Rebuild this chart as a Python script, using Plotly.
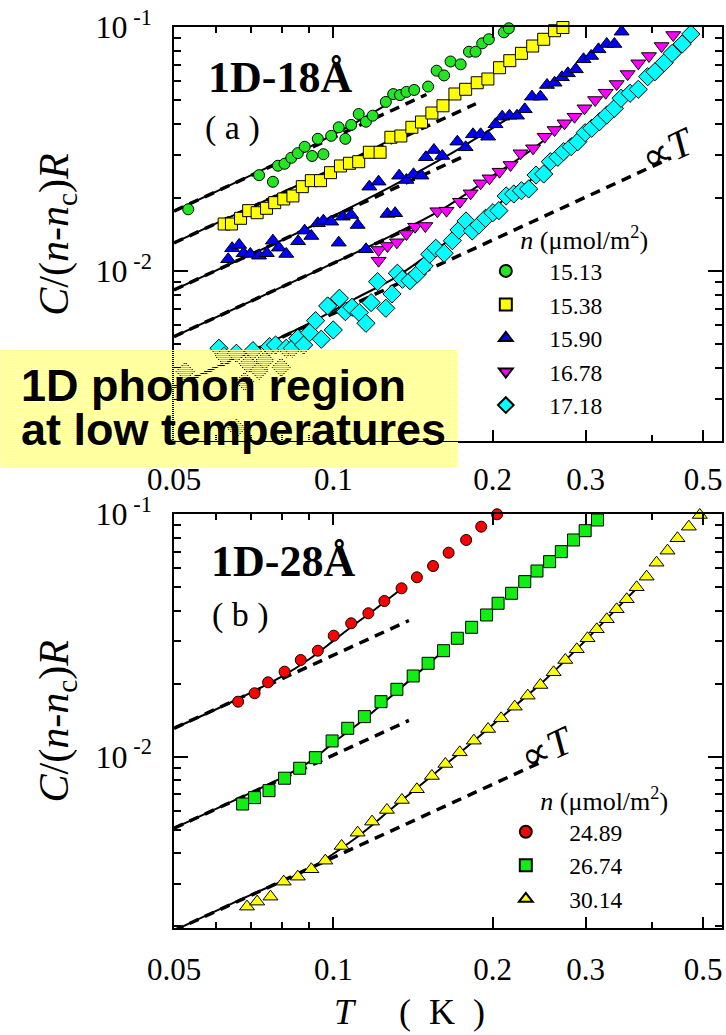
import math
import plotly.graph_objects as go

# ---------------- data: panel (a) 1D-18Å ----------------
T_1513 = [0.0532,0.0724,0.0769,0.0786,0.0809,0.0833,0.0857,0.0883,0.0912,0.0935,0.0958,0.0991,0.1024,0.1054,0.1081,0.1117,0.1153,0.1187,0.1257,0.1298,0.1337,0.1375,0.1422,0.1511,0.1568,0.1620,0.1666,0.1741,0.1805,0.1858,0.1912,0.1968,0.2101,0.2147]
C_1513 = [0.0179,0.0247,0.0232,0.0270,0.0275,0.0291,0.0304,0.0323,0.0296,0.0348,0.0301,0.0358,0.0388,0.0348,0.0397,0.0440,0.0409,0.0433,0.0493,0.0531,0.0526,0.0542,0.0552,0.0570,0.0662,0.0633,0.0722,0.0703,0.0792,0.0792,0.0857,0.0891,0.0951,0.0988]

T_1538 = [0.0622,0.0642,0.0668,0.0692,0.0718,0.0748,0.0775,0.0806,0.0839,0.0874,0.0909,0.0946,0.0988,0.1032,0.1073,0.1117,0.1170,0.1226,0.1285,0.1342,0.1408,0.1468,0.1536,0.1612,0.1698,0.1779,0.1871,0.1960,0.2062,0.2156,0.2268,0.2382,0.2499,0.2620,0.2717]
C_1538 = [0.01558,0.01558,0.01644,0.01767,0.01733,0.01807,0.01905,0.01973,0.0203,0.02216,0.02345,0.02345,0.02529,0.02694,0.02763,0.02805,0.03066,0.03066,0.03532,0.03575,0.0388,0.0408,0.04441,0.04754,0.05314,0.05555,0.05909,0.06121,0.06809,0.07276,0.078,0.08357,0.08905,0.09656,0.0995]

T_1590 = [0.0633,0.0644,0.0664,0.0677,0.0697,0.0724,0.0749,0.0769,0.0789,0.0815,0.0858,0.0883,0.0909,0.0935,0.0958,0.0991,0.1024,0.1042,0.1081,0.1112,0.1153,0.1170,0.1218,0.1266,0.1309,0.1332,0.1375,0.1418,0.1468,0.1496,0.1550,0.1607,0.1716,0.1779,0.1837,0.1899,0.1962,0.2026,0.2086,0.2153,0.2225,0.2301,0.2375,0.2463,0.2535,0.2620,0.2705,0.2776,0.2874,0.2972,0.3072,0.3172,0.3288,0.3399,0.3508]
C_1590 = [0.01117,0.01239,0.01278,0.01182,0.01174,0.01155,0.01182,0.01331,0.01246,0.01174,0.01323,0.01463,0.01391,0.01568,0.01607,0.01592,0.01306,0.01669,0.01696,0.01543,0.01227,0.02216,0.02323,0.01713,0.01724,0.02458,0.0236,0.0249,0.02458,0.02924,0.03132,0.0296,0.03388,0.03213,0.03632,0.03632,0.03551,0.03993,0.04289,0.04329,0.04329,0.04598,0.05181,0.05181,0.05784,0.05909,0.0622,0.06457,0.06706,0.07372,0.07605,0.081,0.08517,0.08517,0.09566]

T_1678 = [0.1218,0.1218,0.1266,0.1319,0.1375,0.1428,0.1493,0.1573,0.1637,0.1736,0.1818,0.1899,0.1974,0.2062,0.2163,0.2259,0.2386,0.2509,0.2620,0.2736,0.2858,0.2984,0.3126,0.3273,0.3433,0.3601,0.3772,0.3951,0.4174,0.4391]
C_1678 = [0.01219,0.01102,0.01266,0.01311,0.01418,0.01519,0.01529,0.01758,0.01767,0.01923,0.02081,0.02287,0.02398,0.02553,0.0272,0.03037,0.03184,0.03551,0.03784,0.04031,0.04289,0.04643,0.05021,0.0538,0.05839,0.06414,0.07099,0.07605,0.08357,0.09273]

T_1718 = [0.0525,0.0608,0.0622,0.0656,0.0656,0.0680,0.0690,0.0705,0.0724,0.0742,0.0758,0.0778,0.0797,0.0815,0.0837,0.0857,0.0879,0.0902,0.0926,0.0949,0.0976,0.1000,0.1027,0.1054,0.1085,0.1120,0.1153,0.1179,0.1213,0.1257,0.1291,0.1322,0.1351,0.1396,0.1442,0.1485,0.1522,0.1562,0.1620,0.1679,0.1728,0.1782,0.1831,0.1885,0.1940,0.2003,0.2056,0.2122,0.2194,0.2268,0.2341,0.2417,0.2499,0.2572,0.2658,0.2725,0.2817,0.2899,0.2993,0.3080,0.3185,0.3288,0.3399,0.3499,0.3639,0.3772,0.3928,0.4056,0.4222,0.4371,0.4566,0.4740]
C_1718 = [0.00387,0.00482,0.00448,0.0046,0.002266,0.00352,0.004158,0.004713,0.00391,0.004296,0.004895,0.004973,0.00403,0.004822,0.004822,0.005299,0.004973,0.005587,0.006255,0.005249,0.00719,0.005731,0.007728,0.006811,0.007099,0.006748,0.006104,0.007418,0.009041,0.007032,0.008048,0.009786,0.009247,0.009125,0.009721,0.01048,0.01171,0.01239,0.01182,0.01331,0.01472,0.01603,0.01459,0.01543,0.01644,0.01733,0.01767,0.0203,0.02068,0.02133,0.02168,0.02473,0.02497,0.02805,0.02924,0.03083,0.03231,0.03388,0.03688,0.03845,0.0409,0.04357,0.04643,0.05102,0.05349,0.05555,0.06255,0.06557,0.0714,0.078,0.08517,0.09361]

# fit curves (solid) and linear-T lines (dashed), panel (a)
FIT_T_1513 = [0.05,0.07,0.09,0.11,0.125]
FIT_C_1513 = [0.0176,0.0247,0.0322,0.0405,0.0475]
LIN_T_1513 = [0.05,0.15]
LIN_C_1513 = [0.0176,0.0529]
FIT_T_1538 = [0.05,0.07,0.09,0.11,0.14]
FIT_C_1538 = [0.01303,0.01826,0.0236,0.0292,0.0378]
LIN_T_1538 = [0.05,0.186]
LIN_C_1538 = [0.01303,0.04847]
FIT_T_1590 = [0.05,0.08,0.1,0.12,0.14,0.17,0.2,0.23]
FIT_C_1590 = [0.00836,0.01338,0.0168,0.0205,0.0245,0.031,0.0385,0.0465]
LIN_T_1590 = [0.05,0.177]
LIN_C_1590 = [0.00836,0.0296]
FIT_T_1678 = [0.05,0.08,0.1,0.13,0.16,0.2,0.24,0.275]
FIT_C_1678 = [0.00538,0.0086,0.01076,0.0141,0.0178,0.0245,0.032,0.041]
LIN_T_1678 = [0.05,0.14]
LIN_C_1678 = [0.00538,0.01506]
FIT_T_1718 = [0.05,0.07,0.09,0.11,0.13,0.15,0.18,0.21,0.25,0.3,0.32]
FIT_C_1718 = [0.00335,0.0047,0.0061,0.0077,0.0093,0.0115,0.0152,0.0195,0.026,0.037,0.041]
LIN_T_1718 = [0.05,0.435]
LIN_C_1718 = [0.003346,0.0291]

# ---------------- data: panel (b) 1D-28Å ----------------
T_2489 = [0.0661,0.0710,0.0753,0.0809,0.0868,0.0935,0.1002,0.1081,0.1165,0.1249,0.1346,0.1439,0.1544,0.1652,0.1783,0.1904,0.2040]
C_2489 = [0.01685,0.01825,0.02025,0.0224,0.02502,0.02733,0.03151,0.03545,0.03898,0.0438,0.0494,0.05484,0.06105,0.06926,0.07815,0.08866,0.0997]

T_2674 = [0.0674,0.0710,0.0756,0.0809,0.0864,0.0925,0.0995,0.1065,0.1145,0.1231,0.1319,0.1416,0.1511,0.1616,0.1716,0.1826,0.1949,0.2049,0.2173,0.2301,0.2427,0.2564,0.2698,0.2845,0.2993,0.3158]
C_2674 = [0.00638,0.00678,0.007244,0.00815,0.00896,0.009906,0.01161,0.01309,0.01462,0.01685,0.01895,0.0215,0.02425,0.02733,0.03075,0.03413,0.03836,0.04286,0.04713,0.05263,0.05822,0.06361,0.06994,0.07815,0.08535,0.09447]

T_3014 = [0.0687,0.0718,0.0761,0.0806,0.0857,0.0909,0.0966,0.1037,0.1112,0.1184,0.1263,0.1348,0.1439,0.1536,0.1629,0.1734,0.1844,0.1962,0.2076,0.2203,0.2331,0.2463,0.2609,0.2745,0.2886,0.3024,0.3148,0.3288,0.3433,0.3586,0.3745,0.3911,0.4083,0.4283,0.4473,0.4700,0.4929]
C_3014 = [0.00241,0.002527,0.002649,0.003055,0.003203,0.003436,0.003728,0.004285,0.004862,0.0054,0.006031,0.006631,0.007339,0.008325,0.009331,0.01042,0.01164,0.0130,0.01439,0.01607,0.01784,0.01974,0.02227,0.02502,0.0277,0.03075,0.03349,0.03683,0.04049,0.04452,0.04989,0.05517,0.06299,0.07061,0.07943,0.08866,0.09906]

FIT_T_2489 = [0.05,0.065,0.08,0.09,0.1,0.11,0.12,0.135]
FIT_C_2489 = [0.01309,0.0170,0.0214,0.0252,0.0300,0.0352,0.0405,0.0494]
LIN_T_2489 = [0.05,0.139]
LIN_C_2489 = [0.01309,0.03639]
FIT_T_2674 = [0.05,0.065,0.08,0.09,0.1,0.115,0.13,0.15,0.165]
FIT_C_2674 = [0.00507,0.0066,0.0082,0.0095,0.0114,0.0144,0.0181,0.0237,0.0284]
LIN_T_2674 = [0.05,0.139]
LIN_C_2674 = [0.00507,0.0141]
FIT_T_3014 = [0.05,0.07,0.09,0.11,0.13,0.15,0.18,0.21,0.25,0.3,0.35,0.38]
FIT_C_3014 = [0.00192,0.0027,0.00345,0.0046,0.0062,0.0080,0.0111,0.0148,0.0205,0.0302,0.0425,0.051]
LIN_T_3014 = [0.05,0.2445]
LIN_C_3014 = [0.00192,0.0094]

X_TICKS = [0.05, 0.1, 0.2, 0.3, 0.5]
X_TICK_TEXT = ["0.05", "0.1", "0.2", "0.3", "0.5"]
X_MINOR = [0.06, 0.07, 0.08, 0.09, 0.4]
Y_TICKS = [0.01, 0.1]
Y_TICK_TEXT = ["10<sup> -2</sup>", "10<sup> -1</sup>"]
Y_MINOR = [0.002,0.003,0.004,0.005,0.006,0.007,0.008,0.009,
           0.02,0.03,0.04,0.05,0.06,0.07,0.08,0.09]

SERIF = "Liberation Serif, Times New Roman, serif"
SANS = "Liberation Sans, Arial, sans-serif"
NB = "\u00a0"

fig = go.Figure()

def add_lines(fT, fC, lT, lC, xa, ya):
    fig.add_trace(go.Scatter(x=fT, y=fC, mode="lines", xaxis=xa, yaxis=ya,
                             line=dict(color="black", width=2, shape="spline"),
                             showlegend=False, hoverinfo="skip"))
    fig.add_trace(go.Scatter(x=lT, y=lC, mode="lines", xaxis=xa, yaxis=ya,
                             line=dict(color="black", width=3.5, dash="10px,7px"),
                             showlegend=False, hoverinfo="skip"))

def add_pts(T, C, name, sym, col, size, xa, ya, leg):
    fig.add_trace(go.Scatter(x=T, y=C, mode="markers", name=NB * 4 + name,
                             xaxis=xa, yaxis=ya, legend=leg, cliponaxis=False,
                             marker=dict(symbol=sym, color=col, size=size,
                                         line=dict(color="black", width=1))))

# panel (a)
add_lines(FIT_T_1513, FIT_C_1513, LIN_T_1513, LIN_C_1513, "x", "y")
add_lines(FIT_T_1538, FIT_C_1538, LIN_T_1538, LIN_C_1538, "x", "y")
add_lines(FIT_T_1590, FIT_C_1590, LIN_T_1590, LIN_C_1590, "x", "y")
add_lines(FIT_T_1678, FIT_C_1678, LIN_T_1678, LIN_C_1678, "x", "y")
add_lines(FIT_T_1718, FIT_C_1718, LIN_T_1718, LIN_C_1718, "x", "y")
add_pts(T_1513, C_1513, "15.13", "circle", "#22e622", 11, "x", "y", "legend")
add_pts(T_1538, C_1538, "15.38", "square", "#ffff00", 12, "x", "y", "legend")
add_pts(T_1590, C_1590, "15.90", "triangle-up", "#0000ff", 13, "x", "y", "legend")
add_pts(T_1678, C_1678, "16.78", "triangle-down", "#ff00ff", 13, "x", "y", "legend")
add_pts(T_1718, C_1718, "17.18", "diamond", "#00ffff", 14, "x", "y", "legend")

# panel (b)
add_lines(FIT_T_2489, FIT_C_2489, LIN_T_2489, LIN_C_2489, "x2", "y2")
add_lines(FIT_T_2674, FIT_C_2674, LIN_T_2674, LIN_C_2674, "x2", "y2")
add_lines(FIT_T_3014, FIT_C_3014, LIN_T_3014, LIN_C_3014, "x2", "y2")
add_pts(T_2489, C_2489, "24.89", "circle", "#ff0000", 11, "x2", "y2", "legend2")
add_pts(T_2674, C_2674, "26.74", "square", "#11ee11", 12, "x2", "y2", "legend2")
add_pts(T_3014, C_3014, "30.14", "triangle-up", "#ffff00", 13, "x2", "y2", "legend2")

XR = [math.log10(0.05), math.log10(0.05) + 550 / 531]

def xaxis(domain_anchor, standoff):
    return dict(type="log", range=XR, domain=[0, 1], anchor=domain_anchor,
                showgrid=False, zeroline=False, showline=True, linecolor="black",
                linewidth=1.5, mirror="ticks", ticks="inside", ticklen=11,
                tickwidth=1.5, tickcolor="black", tickvals=X_TICKS,
                ticktext=X_TICK_TEXT, ticklabelstandoff=standoff,
                tickfont=dict(family=SERIF, size=31, color="black"),
                minor=dict(tickvals=X_MINOR, ticks="inside", ticklen=6,
                           tickwidth=1.5, tickcolor="black"))

def yaxis(domain, rng, anchor):
    return dict(type="log", range=rng, domain=domain, anchor=anchor,
                showgrid=False, zeroline=False, showline=True, linecolor="black",
                linewidth=1.5, mirror="ticks", ticks="inside", ticklen=14,
                tickwidth=1.5, tickcolor="black", tickvals=Y_TICKS,
                ticktext=Y_TICK_TEXT, ticklabelstandoff=14,
                tickfont=dict(family=SERIF, size=32, color="black"),
                minor=dict(tickvals=Y_MINOR, ticks="inside", ticklen=7,
                           tickwidth=1.5, tickcolor="black"))

leg_title = NB * 5 + "<i>n</i> (μmol/m<sup>2</sup>)"
fig.update_layout(
    width=726, height=1035,
    margin=dict(l=174, r=2, t=27, b=107),
    paper_bgcolor="white", plot_bgcolor="white",
    xaxis=xaxis("y", 10),
    yaxis=yaxis([0.5405, 1], [-2.697, -1], "x"),
    xaxis2=xaxis("y2", 13),
    yaxis2=yaxis([0, 0.4595], [-2.706, -1], "x2"),
    legend=dict(x=0.569, y=0.791, xanchor="left", yanchor="top",
                bgcolor="rgba(0,0,0,0)", tracegroupgap=0, itemsizing="constant",
                font=dict(family=SERIF, size=23.5, color="black"),
                title=dict(text=leg_title, font=dict(family=SERIF, size=26, color="black"))),
    legend2=dict(x=0.6055, y=0.1685, xanchor="left", yanchor="top",
                 bgcolor="rgba(0,0,0,0)", tracegroupgap=0, itemsizing="constant",
                 font=dict(family=SERIF, size=23.5, color="black"),
                 title=dict(text=leg_title, font=dict(family=SERIF, size=26, color="black"))),
)

# striped yellow overlay box (decoration), one 1px line every other pixel row
shapes = []
for row in range(350, 467, 2):
    yp = 1 - (row + 0.5 - 27) / 901
    shapes.append(dict(type="line", xref="paper", yref="paper",
                       x0=(0 - 174) / 550, x1=(459 - 174) / 550, y0=yp, y1=yp,
                       line=dict(color="#ffff9c", width=1), layer="above"))
fig.update_layout(shapes=shapes)

ann = [
    dict(text="<b>1D-18Å</b>", x=0.058, y=0.9445, xanchor="left", yanchor="middle",
         font=dict(family=SERIF, size=44, color="black")),
    dict(text="( a )", x=0.107, y=0.888, xanchor="center", yanchor="middle",
         font=dict(family=SERIF, size=34, color="black")),
    dict(text="<b>1D-28Å</b>", x=0.0636, y=0.4073, xanchor="left", yanchor="middle",
         font=dict(family=SERIF, size=44, color="black")),
    dict(text="( b )", x=0.1218, y=0.3474, xanchor="center", yanchor="middle",
         font=dict(family=SERIF, size=34, color="black")),
    dict(text="∝<i>T</i>", x=0.9018, y=0.8635, xanchor="center", yanchor="middle",
         textangle=-25, font=dict(family=SERIF, size=40, color="black")),
    dict(text="∝<i>T</i>", x=0.68, y=0.199, xanchor="center", yanchor="middle",
         textangle=-25, font=dict(family=SERIF, size=40, color="black")),
    dict(text="<i>C</i>/(<i>n</i>-<i>n</i><sub>c</sub>)<i>R</i>", x=-0.2127, y=0.770,
         xanchor="center", yanchor="middle", textangle=-90,
         font=dict(family=SERIF, size=42, color="black")),
    dict(text="<i>C</i>/(<i>n</i>-<i>n</i><sub>c</sub>)<i>R</i>", x=-0.2127, y=0.2297,
         xanchor="center", yanchor="middle", textangle=-90,
         font=dict(family=SERIF, size=42, color="black")),
    dict(text="<i>T</i>" + NB * 5 + "(\u2002K\u2002)", x=0.43, y=-0.0932, xanchor="center",
         yanchor="middle", font=dict(family=SERIF, size=36, color="black")),
    dict(text="<b>1D phonon region</b>", x=(18 - 174) / 550, y=(928 - 385) / 901,
         xanchor="left", yanchor="middle", font=dict(family=SANS, size=45, color="black")),
    dict(text="<b>at low temperatures</b>", x=(18 - 174) / 550, y=(928 - 429) / 901,
         xanchor="left", yanchor="middle", font=dict(family=SANS, size=45, color="black")),
]
for a in ann:
    a.update(xref="paper", yref="paper", showarrow=False)
fig.update_layout(annotations=ann)

fig.write_html("out.html", config={"displayModeBar": False},
               post_script="document.body.style.margin='0px';document.body.style.overflow='hidden';")
